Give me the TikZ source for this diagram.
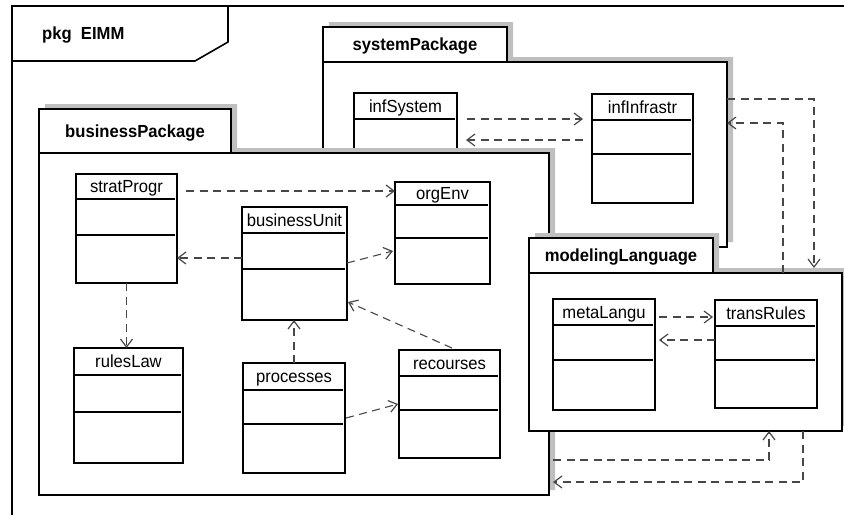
\documentclass[tikz,border=0pt]{standalone}
\usepackage{fontspec}
\setmainfont{Liberation Sans}
\usetikzlibrary{arrows.meta,fit}

\newcommand\condtext[1]{\scalebox{0.95}[1]{#1}}

\tikzset{
  framestyle/.style={line width=2.2pt, draw=black, line join=miter},
  tabstyle/.style={line width=1.6pt, draw=black},
  pkgline/.style={line width=2pt, draw=black, fill=white, line join=miter},
  pkgshadow/.style={fill=black!25},
  clsbox/.style={draw=black, line width=1.5pt, fill=white, inner sep=0pt, outer sep=0pt},
  clssep/.style={line width=1.5pt},
  clsname/.style={font=\fontsize{17.5}{19}\selectfont, inner sep=0pt},
  pkgname/.style={font=\fontsize{17.5}{19}\selectfont\bfseries, inner sep=0pt},
  bodyarea/.style={inner sep=0pt, outer sep=0pt},
  dep/.style={draw=black!72, line width=1.1pt, dash pattern=on 8pt off 5.5pt,
    -{Straight Barb[length=8pt,width=12pt,line width=1.2pt]}},
}

% name, L, T, tabR, tabB, R, B, title
\newcommand\umlpkg[8]{%
  \begin{scope}[shift={(6,-5)}]
    \fill[pkgshadow] (#2,#3) -- (#4,#3) -- (#4,#5) -- (#6,#5) -- (#6,#7) -- (#2,#7) -- cycle;
  \end{scope}
  \draw[pkgline] (#2,#3) -- (#4,#3) -- (#4,#5) -- (#6,#5) -- (#6,#7) -- (#2,#7) -- cycle;
  \draw[pkgline] (#2,#5) -- (#4,#5);
  \node[pkgname, anchor=base] (#1-title) at ({(#2+#4)/2},{(#3+#5)/2+6.3}) {\condtext{#8}};
  \node[bodyarea, fit={(#2,#5)(#6,#7)}] (#1) {};
}

% name, L, T, R, B, S1, S2, text
\newcommand\umlclass[8]{%
  \node[clsbox, fit={(#2,#3)(#4,#5)}] (#1) {};
  \draw[clssep] (#2,#6) -- ({#4-2.5},#6);
  \draw[clssep] (#2,#7) -- ({#4-2.5},#7);
  \node[clsname, anchor=base] (#1-name) at ({(#2+#4)/2},{(#3+#6)/2+6.3}) {\condtext{#8}};
}

\begin{document}
\begin{tikzpicture}[x=1pt, y=-1pt]
\useasboundingbox (0,0) rectangle (844,515);

% outer frame
\draw[framestyle] (12,515) -- (12,6) -- (844,6);
\draw[tabstyle] (228,6) -- (228,42) -- (195,61) -- (12,61);
\node[pkgname, anchor=base west] (frame-title) at (42,39.5) {\condtext{pkg\ \ EIMM}};

% systemPackage
\umlpkg{systemPackage}{323}{27}{507}{62}{727}{247}{systemPackage}
\umlclass{infSystem}{354}{93}{457}{215}{119}{155}{infSystem}
\umlclass{infInfrastr}{592}{94}{693}{203}{120}{154}{infInfrastr}
\draw[dep] ([shift={(10,26)}]infSystem.north east) -- ([shift={(-9,25)}]infInfrastr.north west);
\draw[dep] ([shift={(-9,46)}]infInfrastr.north west) -- ([shift={(9,47)}]infSystem.north east);

% businessPackage
\umlpkg{businessPackage}{39}{109}{231}{153}{549}{495}{businessPackage}
\umlclass{stratProgr}{76}{174}{177}{283}{199}{235}{stratProgr}
\umlclass{businessUnit}{242}{207}{347}{320}{233}{269}{businessUnit}
\umlclass{orgEnv}{395}{182}{490}{284}{205}{238}{orgEnv}
\umlclass{rulesLaw}{74}{348}{183}{463}{375}{412}{rulesLaw}
\umlclass{processes}{243}{363}{345}{473}{390}{424}{processes}
\umlclass{recourses}{399}{350}{500}{458}{376}{410}{recourses}

\draw[dep] ([shift={(9,17)}]stratProgr.north east) -- ([shift={(0,9)}]orgEnv.north west);
\draw[dep] ([shift={(0,51)}]businessUnit.north west) -- ([shift={(0,84)}]stratProgr.north east);
\draw[dep] (stratProgr.south) -- (stratProgr.south |- rulesLaw.north);
\draw[dep] ([shift={(0,56)}]businessUnit.north east) -- ([shift={(-2,69)}]orgEnv.north west);
\draw[dep] (processes.north) -- (processes.north |- businessUnit.south);
\draw[dep] ([shift={(2.5,-2)}]recourses.north) -- ([shift={(1,-18)}]businessUnit.south east);
\draw[dep] ([shift={(1,55)}]processes.north east) -- ([shift={(-1,54)}]recourses.north west);

% modelingLanguage
\umlpkg{modelingLanguage}{529}{238}{713}{273}{842}{431}{modelingLanguage}
\umlclass{metaLangu}{553}{299}{655}{410}{325}{360}{metaLangu}
\umlclass{transRules}{715}{300}{817}{408}{326}{360}{transRules}
\draw[dep] ([shift={(4,18)}]metaLangu.north east) -- ([shift={(-2,17)}]transRules.north west);
\draw[dep] ([shift={(0,40)}]transRules.north west) -- ([shift={(4,41)}]metaLangu.north east);

% connectors between packages
\draw[dep] ([shift={(0,37)}]systemPackage.north east) -| ([shift={(285,-5)}]modelingLanguage.north west);
\draw[dep] ([shift={(254,0)}]modelingLanguage.north west) |- ([shift={(0,61)}]systemPackage.north east);
\draw[dep] ([shift={(4,307)}]businessPackage.north east) -| ([shift={(240,0)}]modelingLanguage.south west);
\draw[dep] ([shift={(274,0)}]modelingLanguage.south west) |- ([shift={(4,329)}]businessPackage.north east);
\end{tikzpicture}
\end{document}
